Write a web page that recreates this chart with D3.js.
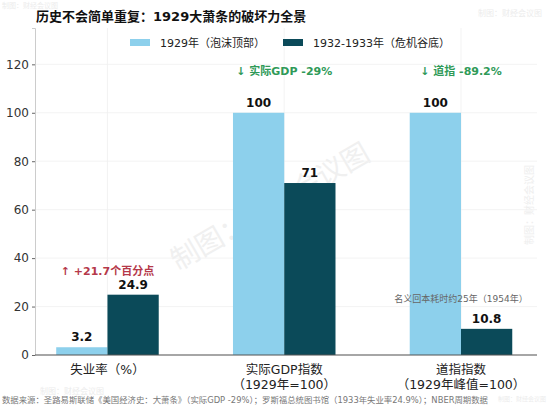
<!DOCTYPE html>
<html>
<head>
<meta charset="utf-8">
<script src="https://cdn.jsdelivr.net/npm/d3@7"></script>
<style>
  body { margin: 0; background: #fff; }
  svg { display: block; font-family: "DejaVu Sans", "Noto Sans CJK SC", sans-serif; }
</style>
</head>
<body>
<div id="chart"></div>
<script>
// Data
const categories = ["失业率（%）", "实际GDP指数\n（1929年=100）", "道指指数\n（1929年峰值=100）"];
const series1929 = [3.2, 100, 100];
const series1933 = [24.9, 71, 10.8];
const seriesNames = ["1929年（泡沫顶部）", "1932-1933年（危机谷底）"];
const yTicks = [0, 20, 40, 60, 80, 100, 120];
const notes = [
  { cat: 0, y: 33, text: "↑ +21.7个百分点", color: "#b5394a" },
  { cat: 1, y: 115.5, text: "↓ 实际GDP -29%", color: "#2f9a58" },
  { cat: 2, y: 115.5, text: "↓ 道指 -89.2%", color: "#2f9a58" }
];

const width = 550, height = 407;
const lightColor = "#8dd0ec", darkColor = "#0b4a59";
const barW = 0.29;

const svg = d3.select("#chart").append("svg")
  .attr("width", width)
  .attr("height", height);

const x = d3.scaleLinear().domain([-0.41, 2.43]).range([35, 537]);
const y = d3.scaleLinear().domain([0, 135]).range([355, 28]);

// watermark
const wm = "制图：财经会议图";
svg.append("text").attr("x", 2).attr("y", 8).attr("font-size", 7).attr("fill", "#ececec").text(wm);
svg.append("text").attr("x", 478).attr("y", 16).attr("font-size", 8).attr("fill", "#ececec").text(wm);
svg.append("text").attr("x", 40).attr("y", 394).attr("font-size", 8).attr("fill", "#ececec").text(wm);
svg.append("text").attr("x", 498).attr("y", 401).attr("font-size", 6).attr("fill", "#ececec").text(wm);
svg.append("text").attr("transform", "translate(275,215) rotate(-30)")
  .attr("text-anchor", "middle").attr("font-size", 28).attr("fill", "#f0f0f0").text(wm);
svg.append("text").attr("transform", "translate(533,205) rotate(-90)")
  .attr("text-anchor", "middle").attr("font-size", 10).attr("fill", "#eeeeee").text(wm);

// title
svg.append("text")
  .attr("x", 36).attr("y", 21)
  .attr("font-size", 13).attr("font-weight", "bold").attr("fill", "#111")
  .text("历史不会简单重复：1929大萧条的破坏力全景");

// grid
svg.append("g").selectAll("line.h").data(yTicks).join("line")
  .attr("x1", x.range()[0]).attr("x2", x.range()[1])
  .attr("y1", d => y(d)).attr("y2", d => y(d))
  .attr("stroke", "#f0f0f0").attr("stroke-width", 0.8);
svg.append("g").selectAll("line.v").data(categories).join("line")
  .attr("x1", (d, i) => x(i)).attr("x2", (d, i) => x(i))
  .attr("y1", y.range()[0]).attr("y2", y.range()[1])
  .attr("stroke", "#f0f0f0").attr("stroke-width", 0.8);

// bars
svg.append("g").selectAll("rect").data(series1929).join("rect")
  .attr("x", (d, i) => x(i - barW)).attr("width", x(barW) - x(0))
  .attr("y", d => y(d)).attr("height", d => y(0) - y(d))
  .attr("fill", lightColor);
svg.append("g").selectAll("rect").data(series1933).join("rect")
  .attr("x", (d, i) => x(i)).attr("width", x(barW) - x(0))
  .attr("y", d => y(d)).attr("height", d => y(0) - y(d))
  .attr("fill", darkColor);

// value labels
const fmt = d => (Number.isInteger(d) ? d : d.toFixed(1));
svg.append("g").selectAll("text").data(series1929).join("text")
  .attr("x", (d, i) => x(i - barW / 2)).attr("y", d => y(d) - 6)
  .attr("text-anchor", "middle").attr("font-size", 12).attr("font-weight", "bold").attr("fill", "#111")
  .text(fmt);
svg.append("g").selectAll("text").data(series1933).join("text")
  .attr("x", (d, i) => x(i + barW / 2)).attr("y", d => y(d) - 6)
  .attr("text-anchor", "middle").attr("font-size", 12).attr("font-weight", "bold").attr("fill", "#111")
  .text(fmt);

// y axis
const yAxis = svg.append("g").attr("transform", `translate(${x.range()[0]},0)`)
  .call(d3.axisLeft(y).tickValues(yTicks).tickSize(3).tickPadding(3));
yAxis.select(".domain").attr("stroke", "#cccccc");
yAxis.selectAll(".tick line").attr("stroke", "#666");
yAxis.selectAll(".tick text").attr("font-size", 12).attr("fill", "#333")
  .attr("font-family", "DejaVu Sans, sans-serif");

// x axis baseline
svg.append("line")
  .attr("x1", x.range()[0]).attr("x2", x.range()[1])
  .attr("y1", y(0)).attr("y2", y(0))
  .attr("stroke", "#555").attr("stroke-width", 1.2);

// x labels
const xl = svg.append("g").selectAll("text").data(categories).join("text")
  .attr("x", (d, i) => x(i)).attr("y", 374)
  .attr("text-anchor", "middle").attr("font-size", 12.5).attr("fill", "#222");
xl.each(function (d, i) {
  d.split("\n").forEach((line, k) => {
    d3.select(this).append("tspan")
      .attr("x", x(i)).attr("dy", k === 0 ? 0 : 14.5)
      .text(line);
  });
});

// annotations
svg.append("g").selectAll("text").data(notes).join("text")
  .attr("x", d => x(d.cat)).attr("y", d => y(d.y))
  .attr("text-anchor", "middle").attr("font-size", 11).attr("font-weight", "bold")
  .attr("fill", d => d.color).text(d => d.text);

svg.append("text")
  .attr("x", x(2)).attr("y", y(22))
  .attr("text-anchor", "middle").attr("font-size", 9).attr("fill", "#666")
  .text("名义回本耗时约25年（1954年）");

// legend
const legend = svg.append("g");
[lightColor, darkColor].forEach((c, i) => {
  const lx = i === 0 ? 130 : 283;
  legend.append("rect").attr("x", lx).attr("y", 39).attr("width", 20).attr("height", 7).attr("fill", c);
  legend.append("text").attr("x", lx + 30).attr("y", 47)
    .attr("font-size", 11).attr("fill", "#222").text(seriesNames[i]);
});

// source
svg.append("text")
  .attr("x", 2).attr("y", 403)
  .attr("font-size", 8.4).attr("fill", "#777")
  .text("数据来源：圣路易斯联储《美国经济史：大萧条》（实际GDP -29%）；罗斯福总统图书馆（1933年失业率24.9%）；NBER周期数据");
</script>
</body>
</html>
